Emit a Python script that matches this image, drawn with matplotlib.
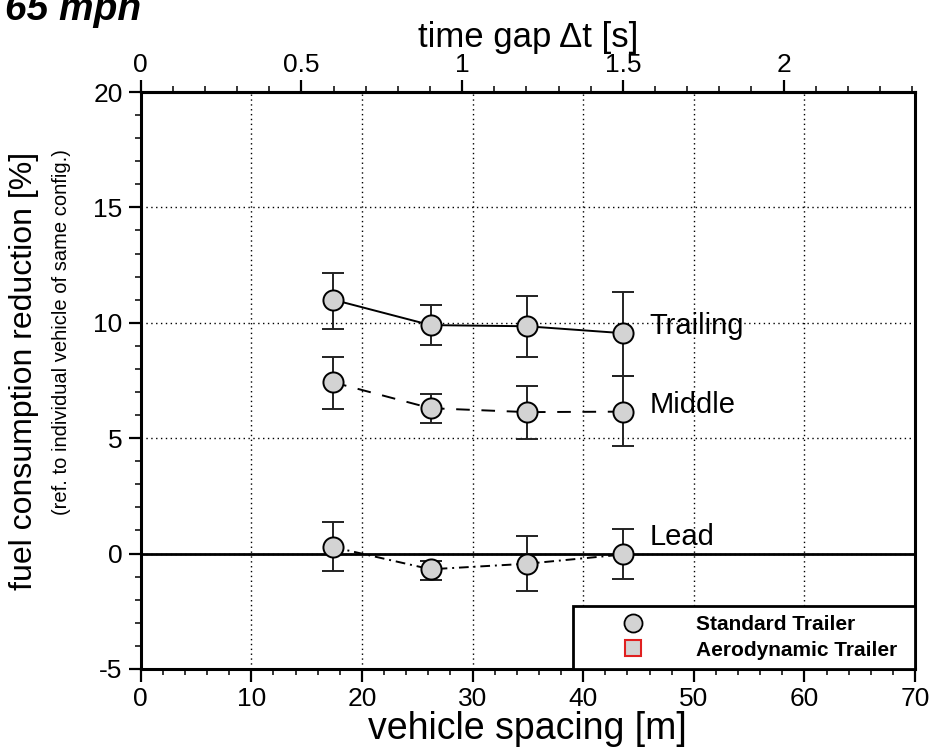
import matplotlib
matplotlib.use("Agg")
import matplotlib.pyplot as plt
from matplotlib.ticker import MultipleLocator
from matplotlib.lines import Line2D

plt.rcParams['font.family'] = ['Liberation Sans', 'DejaVu Sans']
plt.rcParams['axes.unicode_minus'] = False

# ---- data ----
speed_ms = 29.06  # 65 mph in m/s, used for the time-gap axis
spacing = [17.4, 26.2, 34.9, 43.6]

trailing = [11.0, 9.9, 9.85, 9.55]
trailing_hi = [12.15, 10.77, 11.18, 11.32]
trailing_lo = [9.75, 9.05, 8.53, 7.70]

middle = [7.42, 6.30, 6.13, 6.15]
middle_hi = [8.52, 6.92, 7.24, 7.69]
middle_lo = [6.28, 5.65, 4.98, 4.68]

lead = [0.28, -0.68, -0.44, -0.04]
lead_hi = [1.37, -0.31, 0.76, 1.05]
lead_lo = [-0.77, -1.14, -1.60, -1.10]

series_names = ["Trailing", "Middle", "Lead"]
legend_labels = ["Standard Trailer", "Aerodynamic Trailer"]
top_ticks = [0, 0.5, 1, 1.5, 2]
top_tick_labels = ["0", "0.5", "1", "1.5", "2"]

fig = plt.figure(figsize=(9.3, 7.53), dpi=100)
ax = fig.add_axes([0.1513, 0.1116, 0.8326, 0.7662])

ax.set_xlim(0, 70)
ax.set_ylim(-5, 20)
ax.xaxis.set_major_locator(MultipleLocator(10))
ax.xaxis.set_minor_locator(MultipleLocator(2))
ax.yaxis.set_major_locator(MultipleLocator(5))
ax.yaxis.set_minor_locator(MultipleLocator(1))

ax.grid(True, which='major', linestyle=(0, (1, 2.5)), color='black', linewidth=1.0, zorder=0)
ax.axhline(0, color='black', linewidth=2.0, zorder=1)

styles = [
    (trailing, trailing_lo, trailing_hi, '-'),
    (middle, middle_lo, middle_hi, (0, (7, 6))),
    (lead, lead_lo, lead_hi, (0, (5, 2.5, 1, 2.5))),
]
for vals, lo, hi, ls in styles:
    yerr = [[v - l for v, l in zip(vals, lo)], [h - v for v, h in zip(vals, hi)]]
    ax.errorbar(spacing, vals, yerr=yerr, fmt='o', linestyle=ls, color='black',
                linewidth=1.4, markersize=14.5, markerfacecolor='#d3d3d3',
                markeredgecolor='black', markeredgewidth=1.4,
                ecolor='#222222', elinewidth=1.4, capsize=8, capthick=1.4, zorder=3)

label_y = [9.52, 6.09, 0.39]
for name, yv in zip(series_names, label_y):
    ax.text(46.0, yv, name, fontsize=21, ha='left', va='baseline', zorder=4)

ax.tick_params(axis='both', which='major', direction='out', length=9, width=1.6,
               labelsize=19, pad=4)
ax.tick_params(axis='both', which='minor', direction='out', length=4.5, width=1.1)
ax.tick_params(right=False, top=False)
for s in ax.spines.values():
    s.set_linewidth(2.2)

ax.set_xlabel("vehicle spacing [m]", fontsize=27, labelpad=0)

# top axis: time gap
sec = ax.secondary_xaxis('top', functions=(lambda x: x / speed_ms, lambda t: t * speed_ms))
sec.xaxis.set_minor_locator(MultipleLocator(0.1))
sec.set_xticks(top_ticks)
sec.set_xticklabels(top_tick_labels)
sec.tick_params(which='major', direction='out', length=9, width=1.6, labelsize=19, pad=2)
sec.tick_params(which='minor', direction='out', length=4.5, width=1.1)
sec.set_xlabel("time gap \u0394t [s]", fontsize=25, labelpad=4)
sec.spines['top'].set_linewidth(2.2)

# y labels
fig.text(0.026, 0.507, "fuel consumption reduction [%]", rotation=90, fontsize=23,
         ha='center', va='center')
fig.text(0.066, 0.559, "(ref. to individual vehicle of same config.)", rotation=90,
         fontsize=14.5, ha='center', va='center')

# title (partially cut at top, as in the reference)
fig.text(0.005, 1 - 20 / 753, "65 mph", fontsize=28, fontweight='bold', fontstyle='italic',
         ha='left', va='baseline')

# legend
handles = [
    Line2D([], [], linestyle='none', marker='o', markersize=13, markerfacecolor='#d3d3d3',
           markeredgecolor='black', markeredgewidth=1.3),
    Line2D([], [], linestyle='none', marker='s', markersize=12, markerfacecolor='#d3d3d3',
           markeredgecolor='#e02020', markeredgewidth=1.5),
]
leg = ax.legend(handles, legend_labels, loc='lower left',
                bbox_to_anchor=(0.558, 0.0, 0.442, 0.123), mode='expand',
                prop={'weight': 'bold', 'size': 15}, frameon=True, fancybox=False,
                framealpha=1, edgecolor='black', borderpad=0.45, labelspacing=0.3,
                handlelength=4.9, handletextpad=0.55, borderaxespad=0)
leg.get_frame().set_linewidth(2.0)
leg.set_zorder(5)

fig.savefig("out.png", dpi=100)
